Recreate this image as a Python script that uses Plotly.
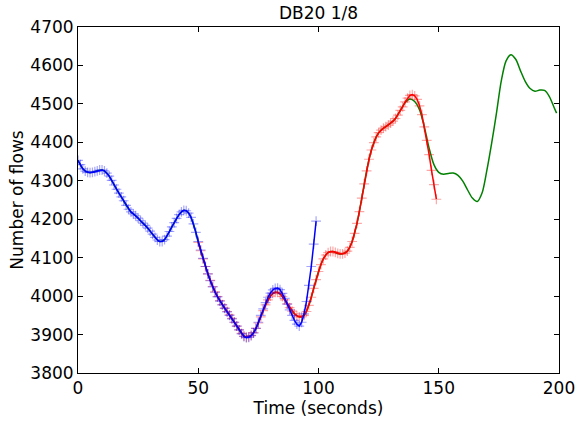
import plotly.graph_objects as go

# ---- data ----
blue_t = list(range(0, 100))
blue_v = [4353, 4342, 4331, 4325, 4322, 4321, 4322, 4324, 4326, 4328,
          4328, 4326, 4320, 4312, 4301, 4289, 4278, 4268, 4258, 4248,
          4236, 4226, 4219, 4214, 4209, 4203, 4196, 4190, 4184, 4177,
          4169, 4161, 4153, 4146, 4142, 4142, 4147, 4156, 4168, 4180,
          4191, 4202, 4212, 4219, 4223, 4222, 4216, 4205, 4188, 4166,
          4142, 4120, 4098, 4077, 4058, 4040, 4024, 4010, 3998, 3987,
          3977, 3968, 3959, 3950, 3941, 3932, 3922, 3912, 3902, 3895,
          3892, 3893, 3897, 3904, 3916, 3932, 3950, 3967, 3983, 3997,
          4008, 4016, 4020, 4021, 4017, 4007, 3994, 3979, 3964, 3950,
          3937, 3927, 3922, 3932, 3954, 3986, 4028, 4077, 4135, 4195]

red_t = list(range(50, 150))
red_v = [4140, 4118, 4097, 4077, 4058, 4041, 4025, 4011, 3999, 3988,
         3978, 3969, 3960, 3951, 3942, 3932, 3922, 3912, 3903, 3896,
         3893, 3894, 3898, 3905, 3916, 3930, 3946, 3962, 3977, 3990,
         4000, 4007, 4010, 4010, 4006, 3999, 3990, 3980, 3970, 3961,
         3954, 3949, 3946, 3946, 3950, 3960, 3976, 3997, 4020, 4043,
         4064, 4082, 4097, 4107, 4113, 4116, 4116, 4114, 4111, 4110,
         4110, 4112, 4117, 4127, 4142, 4163, 4189, 4220, 4255, 4292,
         4326, 4356, 4380, 4399, 4414, 4425, 4432, 4437, 4441, 4445,
         4450, 4455, 4462, 4471, 4483, 4492, 4505, 4515, 4522, 4524,
         4521, 4512, 4495, 4472, 4440, 4405, 4368, 4327, 4290, 4252]

green_t = [0, 2, 4, 6, 8, 10, 12, 14, 16, 18, 20, 22, 24, 26, 28, 30, 32, 34, 36, 38,
           40, 42, 44, 46, 48, 50, 52, 54, 56, 58, 60, 62, 64, 66, 68, 70, 72, 74, 76, 78,
           80, 82, 84, 86, 88, 90, 92, 94, 96, 98, 100, 102, 104, 106, 108, 110, 112, 114,
           116, 118, 120, 122, 124, 126, 128, 130, 132, 134, 136, 138, 140, 142, 144, 146,
           148, 150, 152, 154, 156, 158, 160, 162, 164, 166, 168, 170, 172, 174, 176, 178,
           180, 182, 184, 186, 188, 190, 192, 194, 196, 198, 199]
green_v = [4353, 4331, 4322, 4322, 4326, 4328, 4320, 4301, 4278, 4258, 4236, 4219,
           4209, 4196, 4184, 4169, 4153, 4142, 4147, 4168, 4191, 4212, 4223, 4216,
           4188, 4140, 4097, 4058, 4025, 3999, 3978, 3960, 3942, 3922, 3903, 3893,
           3898, 3916, 3946, 3977, 4000, 4010, 4006, 3990, 3970, 3954, 3946, 3950,
           3976, 4020, 4064, 4097, 4113, 4116, 4111, 4110, 4117, 4142, 4189, 4255,
           4326, 4380, 4414, 4432, 4441, 4450, 4462, 4483, 4503, 4513, 4506, 4485,
           4440, 4385, 4342, 4322, 4317, 4319, 4320, 4314, 4299, 4276, 4255, 4246,
           4268, 4327, 4398, 4476, 4560, 4612, 4628, 4616, 4586, 4558, 4540, 4533,
           4536, 4535, 4519, 4490, 4476]

x_ticks = [0, 50, 100, 150, 200]
y_ticks = [3800, 3900, 4000, 4100, 4200, 4300, 4400, 4500, 4600, 4700]

FONT = "DejaVu Sans"

fig = go.Figure()
fig.add_trace(go.Scatter(x=green_t, y=green_v, mode="lines",
                         line=dict(color="#008000", width=1.5, shape="spline", smoothing=0.8),
                         showlegend=False, hoverinfo="skip"))
fig.add_trace(go.Scatter(x=red_t, y=red_v, mode="lines+markers",
                         line=dict(color="#ff0000", width=1.5),
                         marker=dict(symbol="cross-thin", size=7,
                                     line=dict(color="rgba(255,0,0,0.35)", width=1.2)),
                         showlegend=False, hoverinfo="skip"))
fig.add_trace(go.Scatter(x=blue_t, y=blue_v, mode="lines+markers",
                         line=dict(color="#0000ff", width=1.5),
                         marker=dict(symbol="cross-thin", size=7,
                                     line=dict(color="rgba(0,0,255,0.35)", width=1.2)),
                         showlegend=False, hoverinfo="skip"))

axis_common = dict(showline=True, linecolor="black", linewidth=1, mirror="allticks",
                   ticks="inside", ticklen=5, tickcolor="black", tickwidth=1,
                   showgrid=False, zeroline=False, automargin=False,
                   tickfont=dict(family=FONT, size=17, color="black"))

fig.update_layout(
    width=577, height=423,
    margin=dict(l=78, r=18, t=27, b=50),
    paper_bgcolor="white", plot_bgcolor="white",
    title=dict(text="DB20 1/8", x=0.5, xref="paper", xanchor="center",
               y=1 - 13 / 423, yref="container", yanchor="middle",
               font=dict(family=FONT, size=17, color="black")),
    xaxis=dict(range=[0, 200], tickvals=x_ticks, ticktext=[str(v) for v in x_ticks],
               title=dict(text="Time (seconds)", font=dict(family=FONT, size=17, color="black"),
                          standoff=4),
               **axis_common),
    yaxis=dict(range=[3800, 4700], tickvals=y_ticks, ticktext=[str(v) for v in y_ticks],
               title=dict(text="Number of flows", font=dict(family=FONT, size=17, color="black"),
                          standoff=2),
               **axis_common),
)

fig.write_html("out.html")
